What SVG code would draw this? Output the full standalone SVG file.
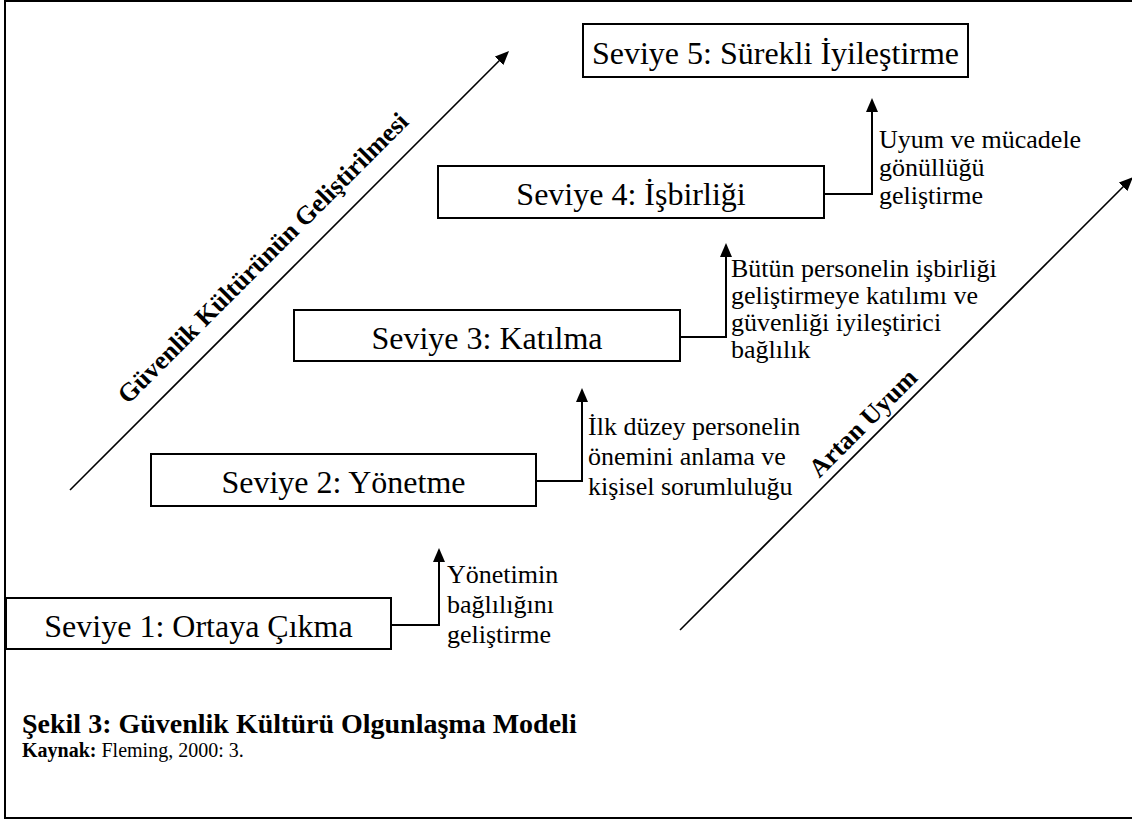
<svg xmlns="http://www.w3.org/2000/svg" width="1132" height="823" viewBox="0 0 1132 823">
  <style>
    .box { fill: #ffffff; stroke: #000000; stroke-width: 2; }
    .lvl { font-family: "Liberation Serif", "Times New Roman", serif; font-size: 32px; fill: #000000; text-anchor: middle; }
    .note { font-family: "Liberation Serif", "Times New Roman", serif; font-size: 26px; fill: #000000; }
    .axis { font-family: "Liberation Serif", "Times New Roman", serif; font-size: 26px; font-weight: bold; fill: #000000; text-anchor: middle; }
    .step { fill: none; stroke: #000000; stroke-width: 2; }
    .diag { fill: none; stroke: #000000; stroke-width: 1.6; }
    .cap { font-family: "Liberation Serif", "Times New Roman", serif; fill: #000000; }
  </style>
  <defs>
    <marker id="head" viewBox="0 0 14 12" refX="10" refY="6" markerWidth="14" markerHeight="12" markerUnits="userSpaceOnUse" orient="auto">
      <path d="M0,0 L14,6 L0,12 z" fill="#000000"/>
    </marker>
  </defs>

  <rect width="1132" height="823" fill="#ffffff"/>
  <!-- outer frame (right side runs past the canvas edge) -->
  <rect x="5" y="1" width="1140" height="817" fill="none" stroke="#000000" stroke-width="2"/>

  <!-- stair connectors between levels and the two trend arrows -->
  <g id="connectors">
    <path class="step" d="M391,625 H439 V552" marker-end="url(#head)"/>
    <path class="step" d="M536,481 H582 V392" marker-end="url(#head)"/>
    <path class="step" d="M680,337 H726 V247" marker-end="url(#head)"/>
    <path class="step" d="M824,194 H872 V102" marker-end="url(#head)"/>
    <line class="diag" x1="70" y1="490" x2="506.2" y2="53.8" marker-end="url(#head)"/>
    <line class="diag" x1="680" y1="630" x2="1130.2" y2="179.8" marker-end="url(#head)"/>
  </g>

  <g id="level1">
    <rect class="box" x="6" y="598" width="385" height="51"/>
    <text class="lvl" x="198.5" y="637">Seviye 1: Ortaya Çıkma</text>
  </g>
  <g id="level2">
    <rect class="box" x="151" y="454" width="385" height="52"/>
    <text class="lvl" x="343.5" y="493">Seviye 2: Yönetme</text>
  </g>
  <g id="level3">
    <rect class="box" x="294" y="310" width="386" height="51"/>
    <text class="lvl" x="487" y="349">Seviye 3: Katılma</text>
  </g>
  <g id="level4">
    <rect class="box" x="438" y="166" width="386" height="52"/>
    <text class="lvl" x="631" y="205">Seviye 4: İşbirliği</text>
  </g>
  <g id="level5">
    <rect class="box" x="583" y="24" width="385" height="53"/>
    <text class="lvl" x="775.5" y="64">Seviye 5: Sürekli İyileştirme</text>
  </g>

  <g id="note1">
    <text class="note" x="447" y="583">Yönetimin</text>
    <text class="note" x="447" y="613">bağlılığını</text>
    <text class="note" x="447" y="643">geliştirme</text>
  </g>
  <g id="note2">
    <text class="note" x="588" y="435">İlk düzey personelin</text>
    <text class="note" x="588" y="465">önemini anlama ve</text>
    <text class="note" x="588" y="495">kişisel sorumluluğu</text>
  </g>
  <g id="note3">
    <text class="note" x="731" y="277">Bütün personelin işbirliği</text>
    <text class="note" x="731" y="304">geliştirmeye katılımı ve</text>
    <text class="note" x="731" y="331">güvenliği iyileştirici</text>
    <text class="note" x="731" y="358">bağlılık</text>
  </g>
  <g id="note4">
    <text class="note" x="879" y="148">Uyum ve mücadele</text>
    <text class="note" x="879" y="176">gönüllüğü</text>
    <text class="note" x="879" y="204">geliştirme</text>
  </g>

  <g id="axis-culture">
    <text class="axis" transform="translate(269,264) rotate(-45)">Güvenlik Kültürünün Geliştirilmesi</text>
  </g>
  <g id="axis-compliance">
    <text class="axis" transform="translate(869,429) rotate(-45)">Artan Uyum</text>
  </g>

  <g id="caption">
    <text class="cap" x="22" y="733" font-size="28" font-weight="bold">Şekil 3: Güvenlik Kültürü Olgunlaşma Modeli</text>
    <text class="cap" x="22" y="757" font-size="20"><tspan font-weight="bold">Kaynak:</tspan> Fleming, 2000: 3.</text>
  </g>
</svg>
